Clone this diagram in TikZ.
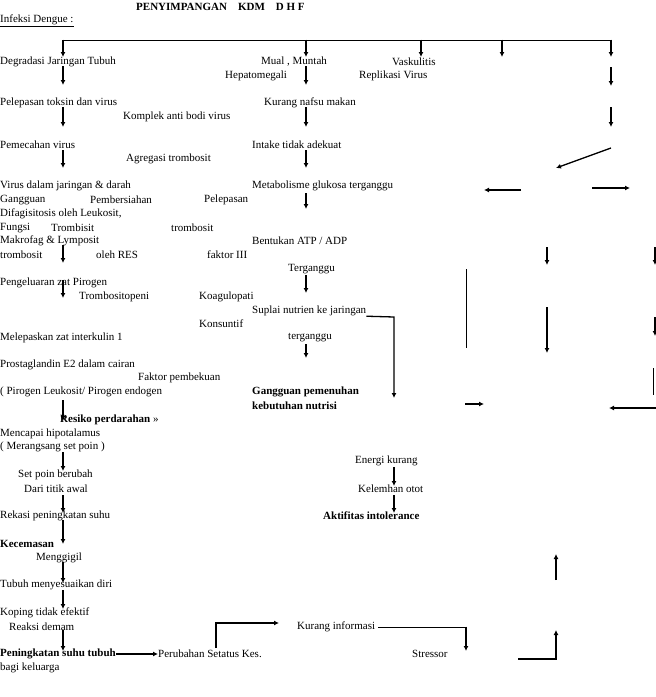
\documentclass[tikz,border=0pt]{standalone}
\usepackage{fontspec}
\setmainfont{Liberation Serif}
\usetikzlibrary{arrows.meta}
\begin{document}
\begin{tikzpicture}[x=1pt,y=-1pt]

    \tikzset{every node/.style={font=\fontsize{11}{12}\selectfont,anchor=west,inner sep=0pt},
             lbl/.style={},
             bl/.style={font=\fontsize{11}{12}\selectfont\bfseries},
             arr/.style={line width=1.3pt,-{Latex[length=5pt,width=5pt]}},
             ln/.style={line width=0.7pt}}
    \useasboundingbox (0,0) rectangle (656,697);

    \node (title) [bl] at (136,7) {PENYIMPANGAN\quad KDM\quad D H F};
    \node (inf) at (0,21) {\underline{Infeksi Dengue :}};

    % top branch
    \draw[ln] (63,40) -- (611,40);
    \foreach \x in {63,306,421,502,611}
       \draw[arr] (\x,39.5) -- (\x,57);

    \node (degr) at (0,62) {Degradasi Jaringan Tubuh};
    \node (mual) at (261,62) {Mual , Muntah};
    \node (vask) at (392,62) {Vaskulitis};
    \node (hepa) at (225,76) {Hepatomegali};
    \node (repl) at (359,76) {Replikasi Virus};
    \foreach \x/\a in {63/66,306/66,611/67}
       \draw[arr] (\x,\a) -- (\x,\a+19);

    \node (pele) at (0,103) {Pelepasan toksin dan virus};
    \node (kura) at (264,103) {Kurang nafsu makan};
    \node (komp) at (123,117) {Komplek anti bodi virus};
    \foreach \x in {63,306,611}
       \draw[arr] (\x,107) -- (\x,127);

    \node (peme) at (0,145) {Pemecahan virus};
    \node (inta) at (252,145) {Intake tidak adekuat};
    \node (agre) at (126,159) {Agregasi trombosit};
    \draw[arr] (63,150) -- (63,168);
    \draw[arr] (306,150) -- (306,168);
    \draw[arr] (611,148) -- (556,168);

    \node (viru) at (0,186) {Virus dalam jaringan \& darah};
    \node (meta) at (252,186) {Metabolisme glukosa terganggu};
    \draw[arr] (521,190) -- (484,190);
    \draw[arr] (592,188) -- (630,188);
    \node (gang) at (0,200) {Gangguan};
    \node (pemb) at (90,200) {Pembersiahan};
    \node (pelp) at (204,200) {Pelepasan};
    \draw[arr] (306,193) -- (306,209);
    \node (difa) at (0,214) {Difagisitosis oleh Leukosit,};
    \node (fung) at (0,228) {Fungsi};
    \node (trbi) at (51,228) {Trombisit};
    \node (trb1) at (171,228) {trombosit};
    \node (makr) at (0,241) {Makrofag \& Lymposit};
    \node (bent) at (252,241) {Bentukan ATP / ADP};
    \node (trb2) at (0,255) {trombosit};
    \node (ores) at (96,255) {oleh RES};
    \node (fakt) at (207,255) {faktor III};
    \draw[arr] (63,245) -- (63,263);
    \draw[arr] (547,247) -- (547,265);
    \draw[arr] (655,247) -- (655,265);

    \node (terg) at (288,269) {Terganggu};
    \draw[ln] (466,269) -- (466,348);
    \node (peng) at (0,283) {Pengeluaran zat Pirogen};
    \draw[arr] (306,275) -- (306,293);
    \node (trbp) at (79,297) {Trombositopeni};
    \node (koag) at (199,297) {Koagulopati};
    \draw[arr] (63,280) -- (63,298);
    \node (supl) at (252,311) {Suplai nutrien ke jaringan};
    \draw[arr] (supl.south east) -- (394,317) -- (394,398);
    \draw[arr] (547,307) -- (547,353);
    \draw[arr] (655,317) -- (655,336);
    \node (kons) at (199,324) {Konsuntif};
    \node (mele) at (0,338) {Melepaskan zat interkulin 1};
    \node (ter2) at (288,338) {terganggu};
    \draw[arr] (306,344) -- (306,358);

    \node (pros) at (0,365) {Prostaglandin E2 dalam cairan};
    \draw[ln] (653,368) -- (653,395);
    \node (fpem) at (138,378) {Faktor pembekuan};
    \node (piro) at (0,392) {( Pirogen Leukosit/ Pirogen endogen};
    \node (ggpn) [bl] at (252,392) {Gangguan pemenuhan};
    \node (kbnt) [bl] at (252,406) {kebutuhan nutrisi};
    \draw[arr] (465,404) -- (484,404);
    \draw[arr] (656,408) -- (609,408);
    \draw[arr] (63,400) -- (63,421);
    \node (resi) [bl] at (60,420) {Resiko perdarahan \textmd{>>}};
    \node (menc) at (0,434) {Mencapai hipotalamus};
    \node (mera) at (0,447) {( Merangsang set poin )};
    \draw[arr] (63,452) -- (63,471);
    \node (setp) at (18,475) {Set poin berubah};
    \node (ener) at (355,461) {Energi kurang};
    \draw[arr] (394,467) -- (394,486);
    \node (dari) at (24,489) {Dari titik awal};
    \node (kele) at (358,489) {Kelemhan otot};
    \draw[arr] (63,495) -- (63,513);
    \draw[arr] (394,495) -- (394,513);
    \node (reka) at (0,516) {Rekasi peningkatan suhu};
    \node (akti) [bl] at (323,516) {Aktifitas intolerance};
    \draw[arr] (63,520) -- (63,544);
    \node (kece) [bl] at (0,544) {Kecemasan};
    \node (meng) at (36,558) {Menggigil};
    \draw[arr] (63,562) -- (63,583);
    \draw[arr] (556,580) -- (556,554);
    \node (tubu) at (0,585) {Tubuh menyesuaikan diri};
    \draw[arr] (63,590) -- (63,609);
    \node (kopi) at (0,613) {Koping tidak efektif};
    \node (reak) at (9,627) {Reaksi demam};
    \node (kinf) at (297,627) {Kurang informasi};
    \draw[arr] (216,648) -- (216,623) -- (279,623);
    \draw[ln] (kinf.east) ++(3,0) -- (466,627);
    \draw[arr] (466,626.6) -- (466,651);
    \draw[arr] (63,630) -- (63,651);
    \node (pnsu) [bl] at (0,654) {Peningkatan suhu tubuh};
    \node (pers) at (158,654) {Perubahan Setatus Kes.};
    \draw[arr] (pnsu.east) -- (pers.west);
    \node (stre) at (412,654) {Stressor};
    \draw[arr] (518,659) -- (556,659) -- (556,630);
    \node (bagi) at (0,668) {bagi keluarga};
\end{tikzpicture}
\end{document}
